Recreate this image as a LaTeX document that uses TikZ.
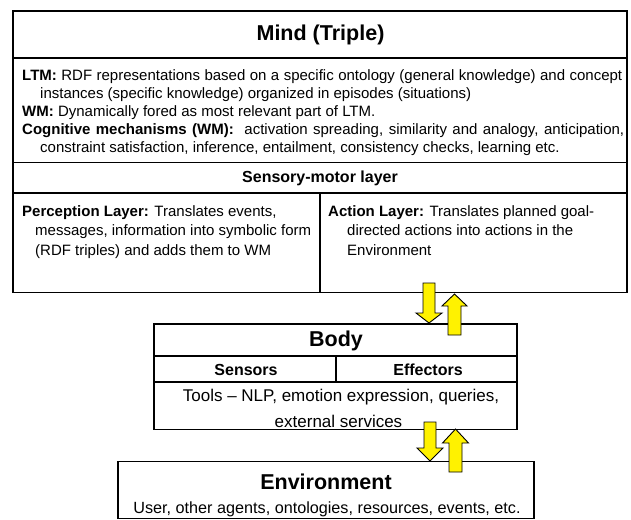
\documentclass[tikz,border=0pt]{standalone}
\usepackage{fontspec}
\setmainfont{Liberation Sans}
\usetikzlibrary{positioning}

\tikzset{
  box/.style={draw, line width=1.3pt},
  bigtitle/.style={font=\bfseries\fontsize{21.5}{24}\selectfont},
  rowtitle/.style={font=\bfseries\fontsize{16}{19}\selectfont},
  mindtext/.style={anchor=base west, inner sep=0pt, font=\fontsize{15}{18}\selectfont},
  laytext/.style={anchor=base west, inner sep=0pt, font=\fontsize{15}{20}\selectfont},
  bodytext/.style={font=\fontsize{17}{20}\selectfont},
  blockarrow/.style={draw, fill=yellow, line width=0.9pt, line join=miter}
}

\begin{document}
\begin{tikzpicture}[x=1pt, y=-1pt]
\useasboundingbox (0,0) rectangle (631,519);

% Mind
\draw[box] (13,11) rectangle (627,292.5);
\draw[box] (13,58) -- (627,58);
\draw[box] (13,162.5) -- (627,162.5);
\draw[box] (13,193) -- (627,193);
\draw[box] (320,193) -- (320,292.5);

\node[bigtitle] (mind) at (320.5,35) {Mind (Triple)};

\node[mindtext] (ltm) at (22,80.5) {\makebox[600pt][s]{\textbf{LTM:} RDF representations based on a specific ontology (general knowledge) and concept}};
\node[mindtext] (ltmb) at (40,98.8) {instances (specific knowledge) organized in episodes (situations)};
\node[mindtext] (wm) at (22,116.5) {\textbf{WM:} Dynamically fored as most relevant part of LTM.};
\node[mindtext] (cog) at (22,134.5) {\makebox[602pt][s]{\textbf{Cognitive mechanisms (WM):} \ activation spreading, similarity and analogy, anticipation,}};
\node[mindtext] (cogb) at (40,152.5) {constraint satisfaction, inference, entailment, consistency checks, learning etc.};

\node[rowtitle] (sensmot) at (320,178) {Sensory-motor layer};

% perception / action
\node[laytext] (perc) at (22,216) {{\bfseries\fontsize{15}{20}\selectfont Perception Layer:} Translates events,};
\node[laytext] (percb) at (35,235.5) {messages, information into symbolic form};
\node[laytext] (percc) at (35,255.5) {(RDF triples) and adds them to WM};

\node[laytext] (act) at (328,216) {{\bfseries\fontsize{15}{20}\selectfont Action Layer:} Translates planned goal-};
\node[laytext] (actb) at (347,235.5) {directed actions into actions in the};
\node[laytext] (actc) at (347,255.5) {Environment};

% Body
\draw[box] (154,324) rectangle (517,429.5);
\draw[box] (154,356) -- (517,356);
\draw[box] (154,382) -- (517,382);
\draw[box] (336,356) -- (336,382);

\node[bigtitle] (body) at (336,341) {Body};
\node[rowtitle] (sensors) at (246,369.5) {Sensors};
\node[rowtitle] (effectors) at (428,369.5) {Effectors};
\node[bodytext] (tools) at (341,397.5) {Tools -- NLP, emotion expression, queries,};
\node[bodytext] (toolsb) at (338.5,421) {external services};

% Environment
\draw[box] (118,461.7) rectangle (534,518.4);
\node[bigtitle] (env) at (326,482) {Environment};
\node[bodytext, font=\fontsize{16.2}{20}\selectfont] (envtext) at (327,509) {User, other agents, ontologies, resources, events, etc.};

% yellow arrows
\fill[blockarrow] (423,283) to ++(12,0) to ++(0,30) to ++(7,0) to ++(-13,10) to ++(-13,-10) to ++(7,0) -- cycle;
\fill[blockarrow] (448,335) to ++(13,0) to ++(0,-29) to ++(6,0) to ++(-12.5,-12) to ++(-12.5,12) to ++(6,0) -- cycle;
\fill[blockarrow] (424,422) to ++(12,0) to ++(0,26) to ++(7,0) to ++(-13,13) to ++(-13,-13) to ++(7,0) -- cycle;
\fill[blockarrow] (449,472) to ++(13,0) to ++(0,-29) to ++(6.5,0) to ++(-13,-14) to ++(-13,14) to ++(6.5,0) -- cycle;
\end{tikzpicture}
\end{document}
